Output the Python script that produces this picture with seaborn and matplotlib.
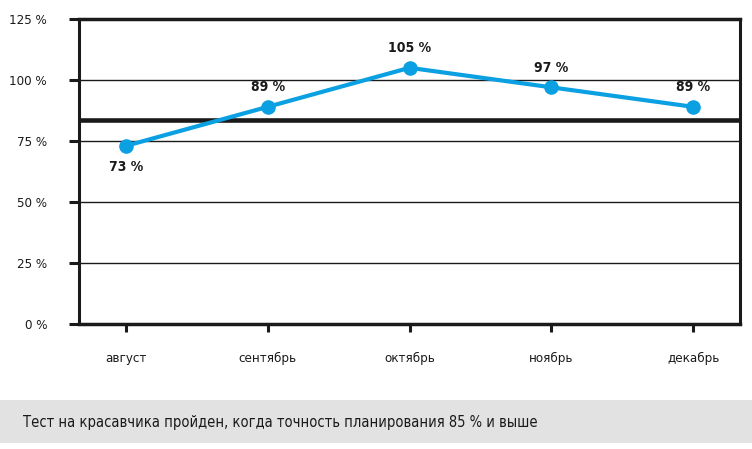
import matplotlib
matplotlib.use("Agg")
import matplotlib.pyplot as plt
import seaborn as sns
import pandas as pd
from matplotlib import font_manager as fm

months = ["август", "сентябрь", "октябрь", "ноябрь", "декабрь"]
values = [73, 89, 105, 97, 89]
threshold = 83.5
yticks = [0, 25, 50, 75, 100, 125]
caption = "Тест на красавчика пройден, когда точность планирования 85 % и выше"

sns.set_theme(style="white")
names = {f.name for f in fm.fontManager.ttflist}
fam = "Liberation Sans Narrow" if "Liberation Sans Narrow" in names else "DejaVu Sans"
plt.rcParams["font.family"] = [fam, "DejaVu Sans"]
if fam == "DejaVu Sans":
    plt.rcParams["font.stretch"] = "condensed"

df = pd.DataFrame({"month": months, "value": values})

fig = plt.figure(figsize=(7.52, 4.49), dpi=100)
ax = fig.add_axes([79 / 752, 1 - 324 / 449, (740 - 79) / 752, (324 - 19) / 449])

col = "#0aa0e2"
dark = "#1a1a1a"
for y in yticks[1:-1]:
    ax.axhline(y, color=dark, lw=1.0, zorder=1)
ax.axhline(threshold, color=dark, lw=3.3, zorder=2)

sns.lineplot(data=df, x="month", y="value", sort=False, ax=ax, color=col,
             lw=3.0, marker="o", markersize=10.5, markeredgewidth=0, zorder=3)

for i, v in enumerate(values):
    if v < threshold:
        ax.annotate(f"{v} %", (i, v), xytext=(0, -10), textcoords="offset points",
                    ha="center", va="top", fontsize=10, fontweight="bold", color=dark)
    else:
        ax.annotate(f"{v} %", (i, v), xytext=(0, 9), textcoords="offset points",
                    ha="center", va="bottom", fontsize=10, fontweight="bold", color=dark)

ax.set_xlim(-0.33, 4.33)
ax.set_ylim(0, 125)
ax.set_yticks(yticks)
ax.set_yticklabels([f"{t} %" for t in yticks], fontsize=9.5, color=dark)
ax.set_xticks(range(len(months)))
ax.set_xticklabels(months, fontsize=9.5, color=dark)
ax.set_xlabel("")
ax.set_ylabel("")
for s in ax.spines.values():
    s.set_visible(True)
    s.set_color(dark)
ax.spines["left"].set_linewidth(2.2)
ax.spines["right"].set_linewidth(2.2)
ax.spines["top"].set_linewidth(2.5)
ax.spines["bottom"].set_linewidth(2.5)
ax.tick_params(axis="y", length=7, width=2.2, color=dark, direction="out", pad=16, left=True)
ax.tick_params(axis="x", length=6, width=2.2, color=dark, direction="out", pad=14, bottom=True)

fig.patches.append(plt.Rectangle((0, 1 - 443 / 449), 1, 43 / 449, transform=fig.transFigure,
                                 facecolor="#e2e2e2", edgecolor="none", zorder=0))
fig.text(23 / 752, 1 - 422 / 449, caption, fontsize=10.5, fontweight="normal",
         color=dark, ha="left", va="center")

fig.savefig("out.png", dpi=100)
